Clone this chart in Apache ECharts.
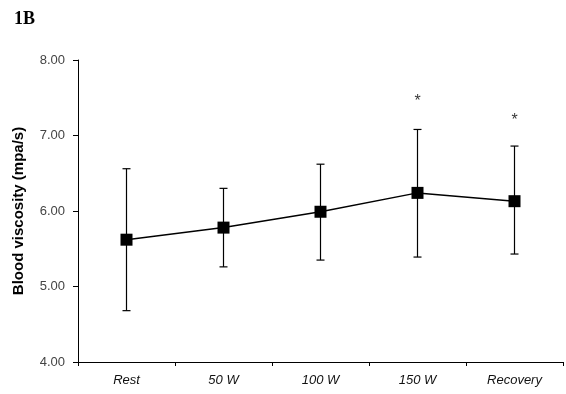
<!DOCTYPE html>
<html><head><meta charset="utf-8">
<script src="https://cdn.jsdelivr.net/npm/echarts@6/dist/echarts.min.js"></script>
<style>html,body{margin:0;padding:0;background:#fff}#c{width:566px;height:394px}</style>
</head><body><div id="c"></div>
<script>
const categories = ['Rest', '50 W', '100 W', '150 W', 'Recovery'];
const means = [5.62, 5.78, 5.99, 6.24, 6.13];
const upper = [6.56, 6.30, 6.62, 7.08, 6.86];
const lower = [4.68, 5.26, 5.35, 5.39, 5.43];
const starLabels = ['', '', '', '*', '*'];
const starY = [null, null, null, 7.45, 7.2];
const yTicks = [4, 5, 6, 7, 8];

const chart = echarts.init(document.getElementById('c'));
const errData = categories.map((c, i) => [i, lower[i], upper[i]]);
const starData = categories.map((c, i) => starY[i] == null ? null : {value: [i, starY[i]], label: {formatter: starLabels[i]}}).filter(Boolean);

chart.setOption({
  animation: false,
  graphic: [{type: 'text', left: 14, top: 10, style: {text: '1B', font: 'bold 18px "Liberation Serif", "DejaVu Serif", serif', fill: '#000'}}],
  grid: {left: 78, right: 3, top: 60, bottom: 32},
  xAxis: {
    type: 'category', data: categories, boundaryGap: true,
    axisLine: {lineStyle: {color: '#000', width: 1}},
    axisTick: {show: true, alignWithLabel: false, length: 4, lineStyle: {color: '#000'}},
    axisLabel: {color: '#111', fontStyle: 'italic', fontFamily: 'Liberation Sans, Arial, sans-serif', fontSize: 13, margin: 12}
  },
  yAxis: {
    type: 'value', min: 4, max: 8, interval: 1,
    name: 'Blood viscosity (mpa/s)', nameLocation: 'middle', nameGap: 52,
    nameTextStyle: {fontWeight: 'bold', fontSize: 15, color: '#000', fontFamily: 'Liberation Sans, Arial, sans-serif'},
    axisLine: {show: true, lineStyle: {color: '#000', width: 1}},
    axisTick: {show: true, length: 5, lineStyle: {color: '#000'}},
    splitLine: {show: false},
    axisLabel: {color: '#444', fontSize: 13, fontFamily: 'Liberation Sans, Arial, sans-serif', margin: 13,
      formatter: v => yTicks.includes(v) ? v.toFixed(2) : ''}
  },
  series: [
    {
      type: 'custom', data: errData, z: 2,
      renderItem: (params, api) => {
        const x = api.coord([api.value(0), 0])[0];
        const lo = api.coord([api.value(0), api.value(1)])[1];
        const hi = api.coord([api.value(0), api.value(2)])[1];
        const w = 4;
        const st = {stroke: '#000', lineWidth: 1.2};
        return {type: 'group', children: [
          {type: 'line', shape: {x1: x, y1: lo, x2: x, y2: hi}, style: st},
          {type: 'line', shape: {x1: x - w, y1: lo, x2: x + w, y2: lo}, style: st},
          {type: 'line', shape: {x1: x - w, y1: hi, x2: x + w, y2: hi}, style: st}
        ]};
      }
    },
    {
      type: 'line', data: means, z: 3,
      symbol: 'rect', symbolSize: 12,
      lineStyle: {color: '#000', width: 1.5},
      itemStyle: {color: '#000'}
    },
    {
      type: 'scatter', data: starData, symbolSize: 0, z: 4,
      label: {show: true, position: 'inside', color: '#000', fontSize: 16, fontFamily: 'Liberation Sans, Arial, sans-serif'}
    }
  ]
});
</script></body></html>
